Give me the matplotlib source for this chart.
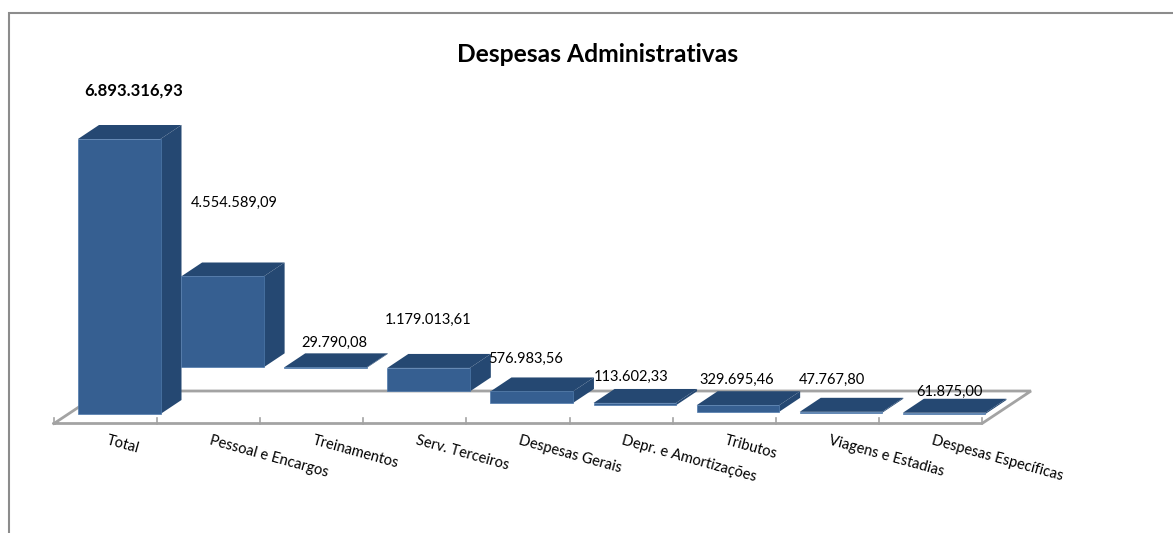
"""Despesas Administrativas: pseudo 3D stacked waterfall, drawn on one flat axes."""
import matplotlib
matplotlib.use('Agg')
import matplotlib.pyplot as plt
from matplotlib.lines import Line2D

plt.rcParams['font.family'] = ['Lato', 'DejaVu Sans']

categories = ['Total', 'Pessoal e Encargos', 'Treinamentos', 'Serv. Terceiros',
              'Despesas Gerais', 'Depr. e Amortizações', 'Tributos',
              'Viagens e Estadias', 'Despesas Específicas']
values = [6893316.93, 4554589.09, 29790.08, 1179013.61, 576983.56,
          113602.33, 329695.46, 47767.80, 61875.00]
value_labels = ['6.893.316,93', '4.554.589,09', '29.790,08', '1.179.013,61', '576.983,56',
                '113.602,33', '329.695,46', '47.767,80', '61.875,00']

# label offsets from the bar's top front centre, in pixels
label_dx = [14, 12, 9, -1, -6, -4, -1, -9, 5]
label_dy = [48, 74, 24, 48, 33, 26, 25, 32, 21]

W, H = 1173, 533
SLOT_PX = 103.11
LEFT_PX = 54
FLOOR_PX = 414        # y pixel of value zero
VAL_PER_PX = 50133.0

FRONT = '#365f91'
DARK = '#254872'
EDGE = '#4f7aac'
GREY = '#a3a3a3'
FRAME = '#8c8c8c'

fig = plt.figure(figsize=(W / 100, H / 100), dpi=100)
ax = fig.add_axes([0, 0, 1, 1])
ax.set_xlim(-LEFT_PX / SLOT_PX, (W - LEFT_PX) / SLOT_PX)
ax.set_ylim(-(H - FLOOR_PX) * VAL_PER_PX, FLOOR_PX * VAL_PER_PX)
ax.axis('off')

# outer chart frame: only the left and top sides are inside the picture
fig.add_artist(Line2D([8.5 / W, 8.5 / W, 1], [0, 1 - 13 / H, 1 - 13 / H], color=FRAME, lw=1.5,
                      solid_joinstyle='miter', transform=fig.transFigure))


def px_x(n):
    return n / SLOT_PX


def px_y(n):
    return n * VAL_PER_PX


# floor of the 3D plot
floor_y0 = px_y(FLOOR_PX - 423.5)
floor_y1 = px_y(FLOOR_PX - 391)
floor_dx = px_x(49)
n = len(categories)
ax.plot([0, n, n + floor_dx, floor_dx, 0],
        [floor_y0, floor_y0, floor_y1, floor_y1, floor_y0],
        color=GREY, lw=2, solid_joinstyle='miter', zorder=1)
for i in range(n + 1):
    ax.plot([i, i], [floor_y0, floor_y0 + px_y(6)], color=GREY, lw=1.2, zorder=1)

# bases: each bar sits on what is left of the items to its right, and the
# Total bar sits on its own value, which is why it stands twice as tall
bases = [values[0]] + [sum(values[i + 1:]) for i in range(1, n)]

bar_w = px_x(82.5)
bar_off = px_x(24)
dx = px_x(21)
dy = px_y(14)
for i in range(n - 1, -1, -1):
    x0 = i + bar_off
    x1 = x0 + bar_w
    y0 = 0 if i == 0 else bases[i]
    y1 = bases[i] + values[i]
    ax.fill([x1, x1 + dx, x1 + dx, x1], [y0, y0 + dy, y1 + dy, y1],
            color=DARK, lw=0, zorder=3)
    ax.fill([x0, x0 + dx, x1 + dx, x1], [y1, y1 + dy, y1 + dy, y1],
            color=DARK, lw=0, zorder=3)
    ax.fill([x0, x1, x1, x0], [y0, y0, y1, y1],
            facecolor=FRONT, edgecolor=EDGE, lw=0.5, zorder=4)
    ax.annotate(value_labels[i], xy=((x0 + x1) / 2, y1),
                xytext=(label_dx[i] * 0.72, label_dy[i] * 0.72), textcoords='offset points',
                ha='center', va='center', color='black', zorder=6,
                fontsize=12 if i == 0 else 10.5,
                fontweight='bold' if i == 0 else 'normal')

for i, name in enumerate(categories):
    ax.annotate(name, xy=(i + 0.5, floor_y0), xytext=(0, -14.5), textcoords='offset points',
                rotation=-15.5, rotation_mode='anchor', ha='left', va='baseline',
                fontsize=10.5, color='black')

fig.text(597.5 / W, 1 - 54 / H, 'Despesas Administrativas', ha='center', va='center',
         fontsize=17.7, fontweight='bold', color='black')

fig.savefig('out.png', dpi=100)
